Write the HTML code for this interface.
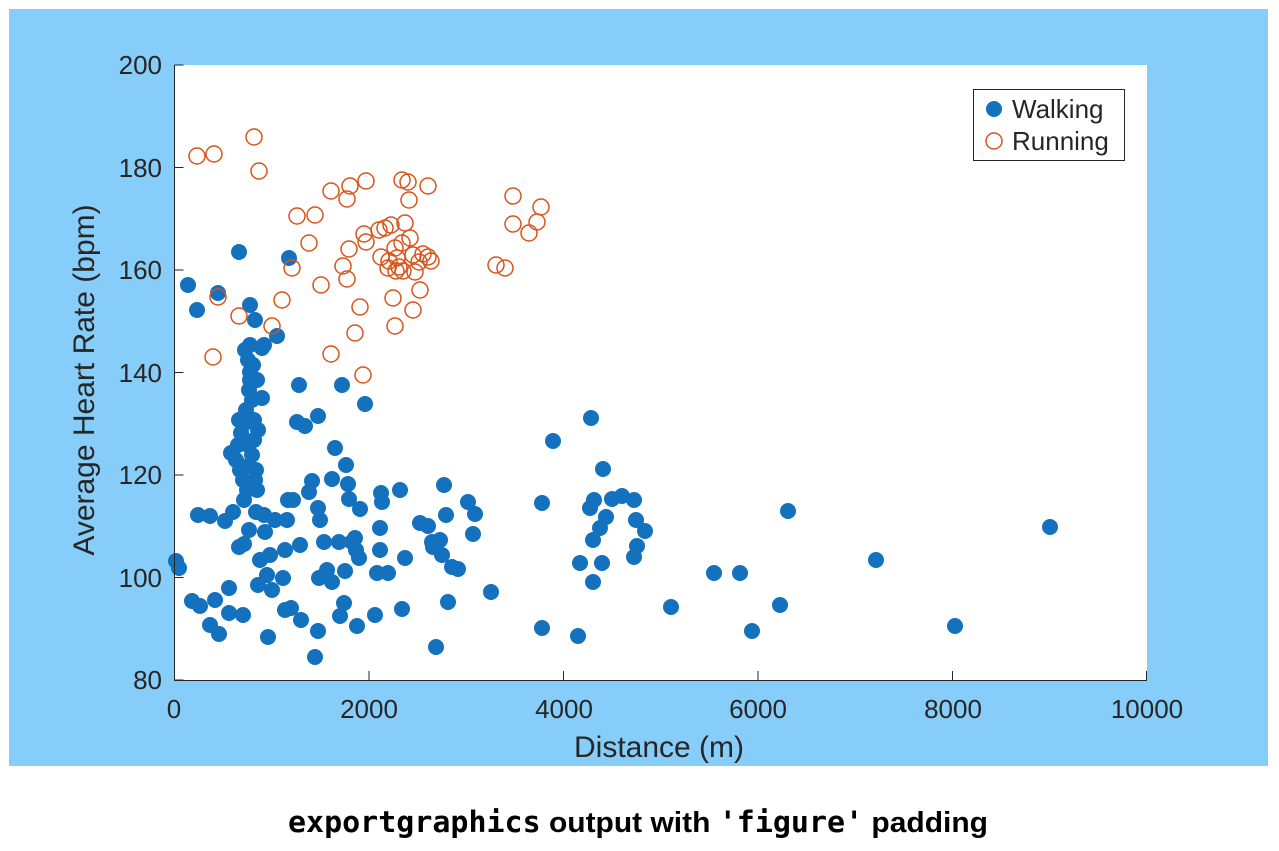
<!DOCTYPE html>
<html><head><meta charset="utf-8"><style>
body{margin:0;background:#fff;width:1279px;height:846px;overflow:hidden}
</style></head><body>
<svg width="1279" height="846" xmlns="http://www.w3.org/2000/svg" font-family="Liberation Sans, sans-serif">
<rect x="9" y="9" width="1259" height="757" fill="#87cdf9"/>
<rect x="174" y="65" width="973" height="615" fill="#fff"/>
<g fill="#1371be">
<circle cx="176" cy="561" r="8"/><circle cx="179" cy="568" r="8"/><circle cx="188" cy="285" r="8"/><circle cx="197" cy="310" r="8"/><circle cx="198" cy="515" r="8"/><circle cx="192" cy="601" r="8"/><circle cx="200" cy="606" r="8"/><circle cx="210" cy="516" r="8"/><circle cx="210" cy="625" r="8"/><circle cx="215" cy="600" r="8"/><circle cx="218" cy="293" r="8"/><circle cx="219" cy="634" r="8"/><circle cx="225" cy="521" r="8"/><circle cx="229" cy="588" r="8"/><circle cx="229" cy="613" r="8"/><circle cx="233" cy="512" r="8"/><circle cx="231" cy="453" r="8"/><circle cx="236" cy="460" r="8"/><circle cx="239" cy="420" r="8"/><circle cx="239" cy="547" r="8"/><circle cx="241" cy="433" r="8"/><circle cx="239" cy="252" r="8"/><circle cx="243" cy="615" r="8"/><circle cx="244" cy="544" r="8"/><circle cx="245" cy="467" r="8"/><circle cx="247" cy="490" r="8"/><circle cx="249" cy="530" r="8"/><circle cx="250" cy="305" r="8"/><circle cx="250" cy="345" r="8"/><circle cx="250" cy="380" r="8"/><circle cx="252" cy="400" r="8"/><circle cx="254" cy="440" r="8"/><circle cx="255" cy="480" r="8"/><circle cx="256" cy="512" r="8"/><circle cx="255" cy="320" r="8"/><circle cx="258" cy="585" r="8"/><circle cx="260" cy="560" r="8"/><circle cx="262" cy="348" r="8"/><circle cx="262" cy="398" r="8"/><circle cx="264" cy="515" r="8"/><circle cx="265" cy="532" r="8"/><circle cx="267" cy="575" r="8"/><circle cx="268" cy="637" r="8"/><circle cx="270" cy="555" r="8"/><circle cx="272" cy="590" r="8"/><circle cx="275" cy="520" r="8"/><circle cx="277" cy="336" r="8"/><circle cx="283" cy="578" r="8"/><circle cx="285" cy="550" r="8"/><circle cx="285" cy="610" r="8"/><circle cx="287" cy="520" r="8"/><circle cx="288" cy="500" r="8"/><circle cx="289" cy="258" r="8"/><circle cx="291" cy="608" r="8"/><circle cx="293" cy="500" r="8"/><circle cx="297" cy="422" r="8"/><circle cx="299" cy="385" r="8"/><circle cx="300" cy="545" r="8"/><circle cx="301" cy="620" r="8"/><circle cx="305" cy="426" r="8"/><circle cx="309" cy="492" r="8"/><circle cx="312" cy="481" r="8"/><circle cx="315" cy="657" r="8"/><circle cx="318" cy="416" r="8"/><circle cx="318" cy="631" r="8"/><circle cx="319" cy="578" r="8"/><circle cx="318" cy="508" r="8"/><circle cx="320" cy="520" r="8"/><circle cx="324" cy="542" r="8"/><circle cx="327" cy="570" r="8"/><circle cx="332" cy="582" r="8"/><circle cx="332" cy="479" r="8"/><circle cx="335" cy="448" r="8"/><circle cx="339" cy="542" r="8"/><circle cx="340" cy="616" r="8"/><circle cx="342" cy="385" r="8"/><circle cx="344" cy="603" r="8"/><circle cx="345" cy="571" r="8"/><circle cx="346" cy="465" r="8"/><circle cx="348" cy="484" r="8"/><circle cx="349" cy="499" r="8"/><circle cx="352" cy="542" r="8"/><circle cx="355" cy="538" r="8"/><circle cx="356" cy="550" r="8"/><circle cx="357" cy="626" r="8"/><circle cx="359" cy="558" r="8"/><circle cx="360" cy="509" r="8"/><circle cx="365" cy="404" r="8"/><circle cx="375" cy="615" r="8"/><circle cx="377" cy="573" r="8"/><circle cx="380" cy="528" r="8"/><circle cx="380" cy="550" r="8"/><circle cx="381" cy="493" r="8"/><circle cx="382" cy="502" r="8"/><circle cx="388" cy="573" r="8"/><circle cx="400" cy="490" r="8"/><circle cx="402" cy="609" r="8"/><circle cx="405" cy="558" r="8"/><circle cx="420" cy="523" r="8"/><circle cx="428" cy="526" r="8"/><circle cx="432" cy="542" r="8"/><circle cx="433" cy="547" r="8"/><circle cx="436" cy="647" r="8"/><circle cx="440" cy="540" r="8"/><circle cx="442" cy="555" r="8"/><circle cx="444" cy="485" r="8"/><circle cx="446" cy="515" r="8"/><circle cx="448" cy="602" r="8"/><circle cx="452" cy="567" r="8"/><circle cx="458" cy="569" r="8"/><circle cx="468" cy="502" r="8"/><circle cx="473" cy="534" r="8"/><circle cx="475" cy="514" r="8"/><circle cx="491" cy="592" r="8"/><circle cx="542" cy="503" r="8"/><circle cx="542" cy="628" r="8"/><circle cx="553" cy="441" r="8"/><circle cx="580" cy="563" r="8"/><circle cx="578" cy="636" r="8"/><circle cx="590" cy="508" r="8"/><circle cx="591" cy="418" r="8"/><circle cx="593" cy="540" r="8"/><circle cx="594" cy="500" r="8"/><circle cx="593" cy="582" r="8"/><circle cx="600" cy="528" r="8"/><circle cx="602" cy="563" r="8"/><circle cx="603" cy="469" r="8"/><circle cx="606" cy="517" r="8"/><circle cx="612" cy="499" r="8"/><circle cx="622" cy="496" r="8"/><circle cx="634" cy="500" r="8"/><circle cx="636" cy="520" r="8"/><circle cx="637" cy="546" r="8"/><circle cx="634" cy="557" r="8"/><circle cx="645" cy="531" r="8"/><circle cx="671" cy="607" r="8"/><circle cx="714" cy="573" r="8"/><circle cx="740" cy="573" r="8"/><circle cx="752" cy="631" r="8"/><circle cx="780" cy="605" r="8"/><circle cx="788" cy="511" r="8"/><circle cx="876" cy="560" r="8"/><circle cx="955" cy="626" r="8"/><circle cx="1050" cy="527" r="8"/>
<circle cx="245" cy="350" r="8"/><circle cx="248" cy="360" r="8"/><circle cx="250" cy="372" r="8"/><circle cx="246" cy="410" r="8"/><circle cx="243" cy="425" r="8"/><circle cx="248" cy="445" r="8"/><circle cx="252" cy="455" r="8"/><circle cx="256" cy="470" r="8"/><circle cx="240" cy="470" r="8"/><circle cx="244" cy="500" r="8"/><circle cx="253" cy="365" r="8"/><circle cx="257" cy="380" r="8"/><circle cx="258" cy="430" r="8"/><circle cx="238" cy="445" r="8"/><circle cx="254" cy="420" r="8"/><circle cx="249" cy="390" r="8"/><circle cx="243" cy="480" r="8"/><circle cx="257" cy="490" r="8"/><circle cx="264" cy="345" r="8"/>
</g>
<g fill="none" stroke="#d95319" stroke-width="1.5">
<circle cx="197" cy="156" r="8"/><circle cx="214" cy="154" r="8"/><circle cx="254" cy="137" r="8"/><circle cx="259" cy="171" r="8"/><circle cx="218" cy="297" r="8"/><circle cx="213" cy="357" r="8"/><circle cx="239" cy="316" r="8"/><circle cx="272" cy="326" r="8"/><circle cx="282" cy="300" r="8"/><circle cx="292" cy="268" r="8"/><circle cx="297" cy="216" r="8"/><circle cx="309" cy="243" r="8"/><circle cx="315" cy="215" r="8"/><circle cx="321" cy="285" r="8"/><circle cx="331" cy="191" r="8"/><circle cx="331" cy="354" r="8"/><circle cx="343" cy="266" r="8"/><circle cx="350" cy="186" r="8"/><circle cx="347" cy="199" r="8"/><circle cx="349" cy="249" r="8"/><circle cx="347" cy="279" r="8"/><circle cx="355" cy="333" r="8"/><circle cx="360" cy="307" r="8"/><circle cx="363" cy="375" r="8"/><circle cx="366" cy="181" r="8"/><circle cx="364" cy="234" r="8"/><circle cx="366" cy="242" r="8"/><circle cx="379" cy="230" r="8"/><circle cx="381" cy="257" r="8"/><circle cx="385" cy="228" r="8"/><circle cx="389" cy="261" r="8"/><circle cx="391" cy="225" r="8"/><circle cx="393" cy="298" r="8"/><circle cx="395" cy="326" r="8"/><circle cx="396" cy="271" r="8"/><circle cx="397" cy="258" r="8"/><circle cx="399" cy="267" r="8"/><circle cx="402" cy="180" r="8"/><circle cx="403" cy="271" r="8"/><circle cx="405" cy="223" r="8"/><circle cx="408" cy="182" r="8"/><circle cx="409" cy="200" r="8"/><circle cx="410" cy="238" r="8"/><circle cx="413" cy="310" r="8"/><circle cx="413" cy="255" r="8"/><circle cx="415" cy="272" r="8"/><circle cx="419" cy="262" r="8"/><circle cx="420" cy="290" r="8"/><circle cx="423" cy="254" r="8"/><circle cx="428" cy="257" r="8"/><circle cx="431" cy="261" r="8"/><circle cx="428" cy="186" r="8"/><circle cx="496" cy="265" r="8"/><circle cx="505" cy="268" r="8"/><circle cx="513" cy="196" r="8"/><circle cx="513" cy="224" r="8"/><circle cx="529" cy="233" r="8"/><circle cx="537" cy="222" r="8"/><circle cx="541" cy="207" r="8"/><circle cx="402" cy="243" r="8"/><circle cx="395" cy="248" r="8"/><circle cx="388" cy="268" r="8"/>
</g>
<g stroke="#262626" stroke-width="1" fill="none">
<path d="M174.5 65V680.5H1147"/>
<path d="M174.5 65h9M174.5 167.5h9M174.5 270h9M174.5 372.5h9M174.5 475h9M174.5 577.5h9M174.5 680h9"/>
<path d="M174.5 680v-9M369 680v-9M563.5 680v-9M758 680v-9M952.5 680v-9M1146.5 680v-9"/>
</g>
<g font-size="26" fill="#262626" text-anchor="end">
<text x="162" y="74">200</text><text x="162" y="177">180</text><text x="162" y="279">160</text><text x="162" y="382">140</text><text x="162" y="484">120</text><text x="162" y="587">100</text><text x="162" y="689">80</text>
</g>
<g font-size="26" fill="#262626" text-anchor="middle">
<text x="174" y="718">0</text><text x="369" y="718">2000</text><text x="564" y="718">4000</text><text x="758" y="718">6000</text><text x="953" y="718">8000</text><text x="1147" y="718">10000</text>
</g>
<text x="659" y="757" font-size="30" fill="#262626" text-anchor="middle">Distance (m)</text>
<text transform="translate(94,380) rotate(-90)" font-size="30" fill="#262626" text-anchor="middle">Average Heart Rate (bpm)</text>
<rect x="973.5" y="89.5" width="151" height="71" fill="#fff" stroke="#262626"/>
<circle cx="994" cy="109" r="8" fill="#1371be"/>
<circle cx="994" cy="141" r="8" fill="none" stroke="#d95319" stroke-width="1.5"/>
<text x="1012" y="118" font-size="26" fill="#262626">Walking</text>
<text x="1012" y="150" font-size="26" fill="#262626">Running</text>
<text x="638" y="832" font-size="29" font-weight="bold" fill="#000" text-anchor="middle" textLength="700" lengthAdjust="spacingAndGlyphs"><tspan font-family="DejaVu Sans Mono, monospace">exportgraphics</tspan> output with <tspan font-family="DejaVu Sans Mono, monospace">'figure'</tspan> padding</text>
</svg>
</body></html>
